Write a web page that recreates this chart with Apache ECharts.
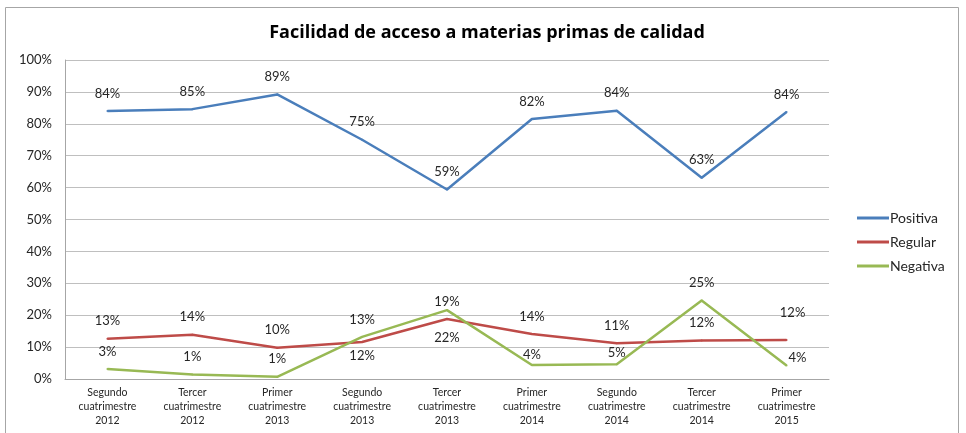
<!DOCTYPE html>
<html>
<head>
<meta charset="utf-8">
<script src="https://cdn.jsdelivr.net/npm/echarts@6/dist/echarts.min.js"></script>
<style>
html,body{margin:0;padding:0;background:#fff;}
#chart{width:966px;height:433px;}
</style>
</head>
<body>
<div id="chart"></div>
<script>
const categories = [
  "Segundo\ncuatrimestre\n2012",
  "Tercer\ncuatrimestre\n2012",
  "Primer\ncuatrimestre\n2013",
  "Segundo\ncuatrimestre\n2013",
  "Tercer\ncuatrimestre\n2013",
  "Primer\ncuatrimestre\n2014",
  "Segundo\ncuatrimestre\n2014",
  "Tercer\ncuatrimestre\n2014",
  "Primer\ncuatrimestre\n2015"
];
const positiva = [84.0, 84.6, 89.2, 75.0, 59.4, 81.5, 84.1, 63.1, 83.7];
const regular  = [12.6, 13.9, 9.8, 11.6, 18.8, 14.1, 11.2, 12.1, 12.2];
const negativa = [3.1, 1.4, 0.7, 13.2, 21.6, 4.4, 4.6, 24.6, 4.2];
const yTicks = [0, 10, 20, 30, 40, 50, 60, 70, 80, 90, 100];
const seriesNames = ["Positiva", "Regular", "Negativa"];

const colors = ["#4a7ebb", "#be4b48", "#98b954"];
const FONT = "Lato";

// label placement relative to the point [dx, dy] (layout only)
const labelOffsets = {
  1: {3: [0, 14], 8: [6, -27]},
  2: {4: [0, 28], 5: [0, -10], 6: [0, -12], 8: [11, -8]}
};

const allValues = [positiva, regular, negativa];

const chart = echarts.init(document.getElementById('chart'), null, {renderer: 'canvas'});
chart.setOption({
  animation: false,
  backgroundColor: '#ffffff',
  title: {
    text: 'Facilidad de acceso a materias primas de calidad',
    left: 482, top: 19, textAlign: 'center',
    textStyle: {fontFamily: 'Open Sans', fontWeight: 'bold', fontSize: 18, color: '#000'}
  },
  graphic: [{
    type: 'rect', silent: true, z: -1,
    shape: {x: 5.5, y: 7.5, width: 953, height: 440},
    style: {fill: 'none', stroke: '#a6a6a6', lineWidth: 1}
  }],
  legend: {
    orient: 'vertical', left: 852, top: 206,
    icon: 'rect', itemWidth: 32, itemHeight: 3, itemGap: 10,
    textStyle: {fontFamily: FONT, fontSize: 14, color: '#262626', padding: [0,0,0,-4]},
    data: seriesNames
  },
  grid: {left: 65, right: 137, top: 60, bottom: 54, containLabel: false},
  xAxis: {
    type: 'category', data: categories, boundaryGap: true,
    axisLine: {lineStyle: {color: '#a6a6a6'}},
    axisTick: {show: false},
    axisLabel: {fontFamily: FONT, fontSize: 10.5, lineHeight: 14, color: '#262626', margin: 7, interval: 0}
  },
  yAxis: {
    type: 'value', min: 0, max: 100, interval: 10,
    axisLine: {show: true, lineStyle: {color: '#a6a6a6'}},
    axisTick: {show: false},
    splitLine: {lineStyle: {color: '#bfbfbf'}},
    axisLabel: {fontFamily: FONT, fontSize: 13, color: '#262626', margin: 13,
      formatter: v => yTicks.includes(v) ? v + '%' : ''}
  },
  series: seriesNames.map((name, si) => ({
    name: name, type: 'line',
    data: allValues[si],
    showSymbol: true, showAllSymbol: true, symbol: 'circle', symbolSize: 2,
    lineStyle: {width: 2.5, color: colors[si]},
    itemStyle: {color: colors[si]},
    label: {show: true, position: 'top', distance: 10,
      fontFamily: FONT, fontSize: 13, color: '#262626',
      formatter: p => Math.round(p.value) + '%'},
    labelLayout: function (p) {
      const off = labelOffsets[si] && labelOffsets[si][p.dataIndex];
      if (!off) return {hideOverlap: false};
      return {hideOverlap: false, x: p.rect.x + p.rect.width / 2 + off[0], y: p.rect.y + p.rect.height / 2 + off[1], align: 'center', verticalAlign: 'middle'};
    },
    emphasis: {disabled: true}
  }))
});
</script>
</body>
</html>
